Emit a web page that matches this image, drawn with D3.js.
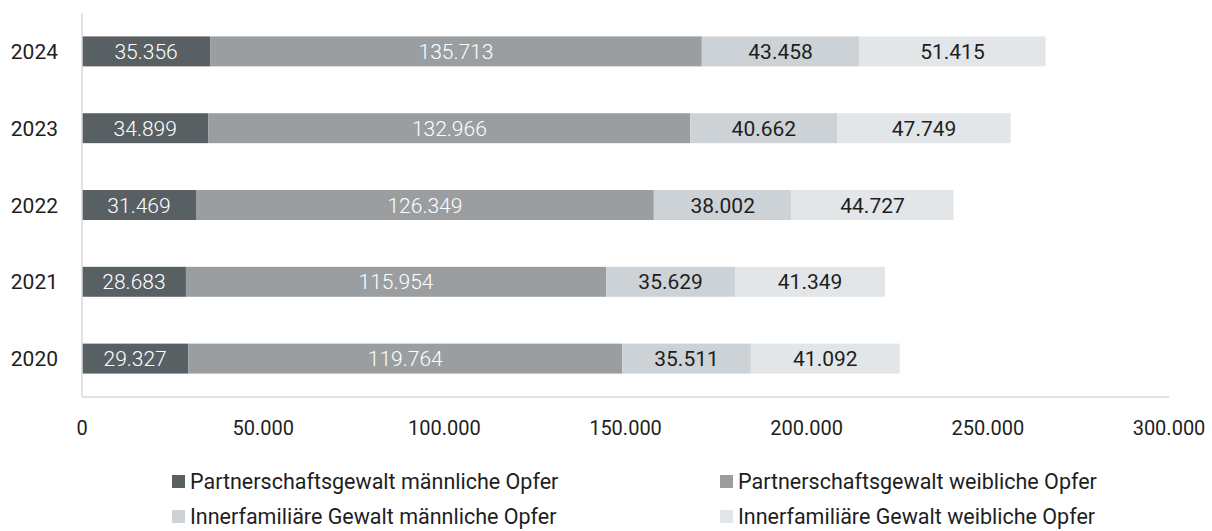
<!DOCTYPE html>
<html>
<head>
<meta charset="utf-8">
<script src="https://cdn.jsdelivr.net/npm/d3@7"></script>
<style>
  body { margin: 0; background: #fff; }
  svg text { font-family: Roboto, "Open Sans", sans-serif; }
</style>
</head>
<body>
<svg id="chart" width="1212" height="531"></svg>
<script>
var years = ["2024", "2023", "2022", "2021", "2020"];
var seriesNames = [
    "Partnerschaftsgewalt männliche Opfer",
    "Partnerschaftsgewalt weibliche Opfer",
    "Innerfamiliäre Gewalt männliche Opfer",
    "Innerfamiliäre Gewalt weibliche Opfer"
];
var partnerMale   = [35356, 34899, 31469, 28683, 29327];
var partnerFemale = [135713, 132966, 126349, 115954, 119764];
var familyMale    = [43458, 40662, 38002, 35629, 35511];
var familyFemale  = [51415, 47749, 44727, 41349, 41092];
var xTicks = [0, 50000, 100000, 150000, 200000, 250000, 300000];

var colors = ["#586063", "#9a9ea0", "#cdd2d6", "#e3e6e8"];
var textColors = ["#ffffff", "#ffffff", "#1e1e1e", "#1e1e1e"];

var svg = d3.select("svg#chart");
var margin = {left: 82, right: 43, top: 13, bottom: 134};
var width = 1212 - margin.left - margin.right;
var height = 531 - margin.top - margin.bottom;

var rows = years.map(function(y, i) {
    return {year: y, values: [partnerMale[i], partnerFemale[i], familyMale[i], familyFemale[i]]};
});

var x = d3.scaleLinear().domain([0, 300000]).range([0, width]);
var y = d3.scaleBand().domain(years).range([0, height]).paddingInner(0.61).paddingOuter(0.305);

var fmt = d3.formatLocale({decimal: ",", thousands: ".", grouping: [3], currency: ["", "€"]}).format(",d");

var g = svg.append("g").attr("transform", "translate(" + margin.left + "," + margin.top + ")");

// segments
rows.forEach(function(r) {
    var acc = 0;
    r.values.forEach(function(v, k) {
        var x0 = acc;
        acc += v;
        g.append("rect")
            .attr("x", x(x0))
            .attr("y", y(r.year))
            .attr("width", x(acc) - x(x0))
            .attr("height", y.bandwidth())
            .attr("fill", colors[k]);
        g.append("text")
            .attr("x", (x(x0) + x(acc)) / 2)
            .attr("y", y(r.year) + y.bandwidth() / 2)
            .attr("dy", "0.36em")
            .attr("text-anchor", "middle")
            .attr("font-size", 21)
            .attr("font-weight", k < 2 ? 300 : 400)
            .attr("fill", textColors[k])
            .text(fmt(v));
    });
});

// axis lines
g.append("line")
    .attr("x1", 0).attr("x2", 0)
    .attr("y1", 0).attr("y2", height)
    .attr("stroke", "#d9d9d9").attr("stroke-width", 1.5);
g.append("line")
    .attr("x1", 0).attr("x2", width)
    .attr("y1", height).attr("y2", height)
    .attr("stroke", "#d9d9d9").attr("stroke-width", 1.5);

// x tick labels
g.selectAll(".xtick")
    .data(xTicks)
    .enter()
    .append("text")
    .attr("class", "xtick")
    .attr("x", d => x(d))
    .attr("y", height + 31)
    .attr("dy", "0.36em")
    .attr("text-anchor", "middle")
    .attr("font-size", 20)
    .attr("fill", "#1e1e1e")
    .text(d => fmt(d));

// y labels
g.selectAll(".ytick")
    .data(years)
    .enter()
    .append("text")
    .attr("class", "ytick")
    .attr("x", -24)
    .attr("y", d => y(d) + y.bandwidth() / 2)
    .attr("dy", "0.36em")
    .attr("text-anchor", "end")
    .attr("font-size", 21)
    .attr("fill", "#1e1e1e")
    .text(d => d);

// legend
var legendPos = [[172, 481], [720, 481], [172, 516], [720, 516]];
seriesNames.forEach(function(name, k) {
    var lg = svg.append("g").attr("transform", "translate(" + legendPos[k][0] + "," + legendPos[k][1] + ")");
    lg.append("rect")
        .attr("x", 0).attr("y", -6)
        .attr("width", 13).attr("height", 13)
        .attr("fill", colors[k]);
    lg.append("text")
        .attr("x", 18)
        .attr("y", 0)
        .attr("dy", "0.36em")
        .attr("font-size", 21.5)
        .attr("fill", "#1e1e1e")
        .text(name);
});
</script>
</body>
</html>
